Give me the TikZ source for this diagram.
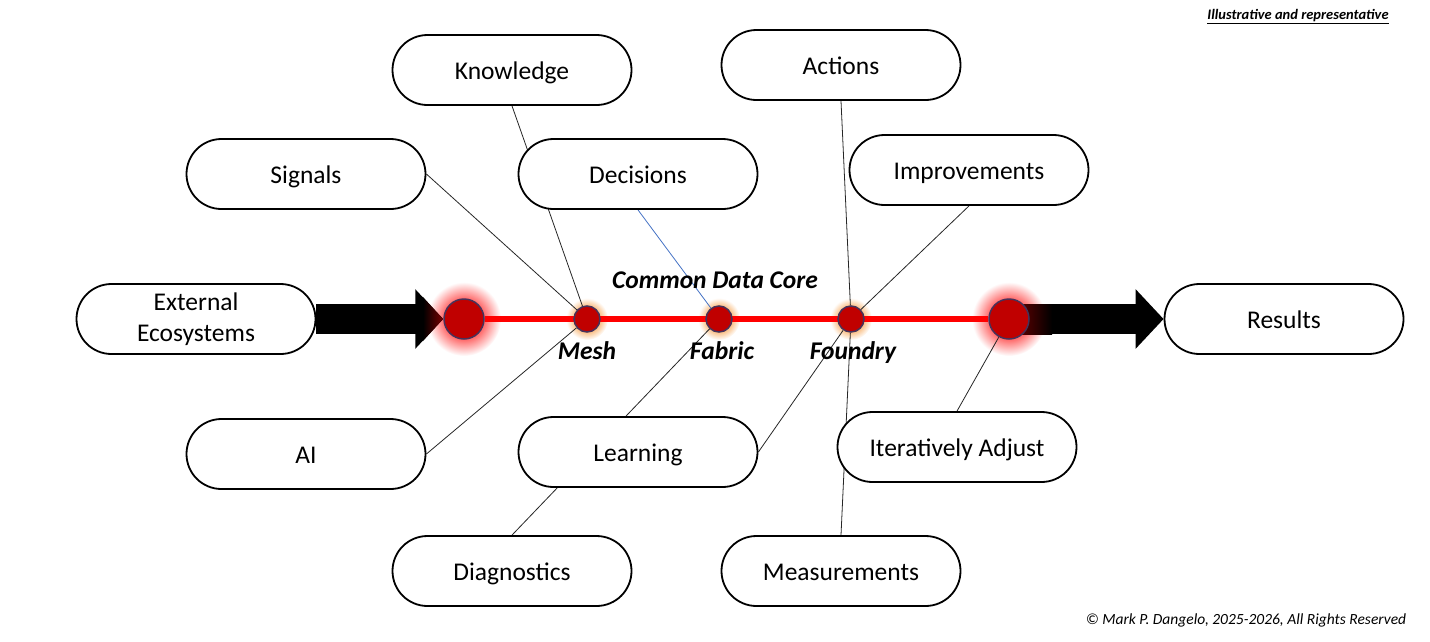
\documentclass[tikz,border=0pt]{standalone}
\usepackage{fontspec}
\setmainfont{Carlito}
\usetikzlibrary{arrows.meta,backgrounds}

\definecolor{hubred}{RGB}{192,0,0}
\definecolor{hubrim}{RGB}{70,50,90}
\definecolor{spinered}{RGB}{255,0,0}
\definecolor{linkblue}{RGB}{68,114,196}
\definecolor{tipred}{RGB}{120,0,0}
\definecolor{glowpink}{RGB}{255,110,110}
\definecolor{glowamber}{RGB}{250,195,140}

\pgfdeclareradialshading{redglow}{\pgfpoint{0bp}{0bp}}{color(0bp)=(glowpink); color(14bp)=(glowpink); color(25bp)=(white); color(50bp)=(white)}
\pgfdeclareradialshading{amberglow}{\pgfpoint{0bp}{0bp}}{color(0bp)=(glowamber); color(16bp)=(glowamber); color(25bp)=(white); color(50bp)=(white)}

\tikzset{
  capsule/.style={draw, line width=1.8pt, fill=white, rounded corners=35pt,
    minimum width=239pt, minimum height=70pt, inner sep=0pt, align=center,
    font=\fontsize{25.5}{31}\selectfont},
  idea/.style={capsule, text height=18pt, text depth=0pt},
  hub/.style={circle, draw=hubrim, line width=1.5pt, fill=hubred,
    minimum size=26pt, inner sep=0pt},
  bighub/.style={hub, minimum size=40pt},
  link/.style={line width=0.8pt, black!85},
  flow/.style={line width=30pt, -{Triangle[length=28pt,width=58pt]}},
  tag/.style={font=\fontsize{25.5}{30}\selectfont\bfseries\itshape,
    text height=17pt, text depth=5pt},
}

\begin{document}
\begin{tikzpicture}[x=1pt,y=-1pt]
  \useasboundingbox (0,0) rectangle (1430,641);

  % Spine hubs
  \node[bighub] (inL) at (464,319) {};
  \node[hub] (mesh) at (587,319) {};
  \node[hub] (fabric) at (719,319) {};
  \node[hub] (foundry) at (851,319) {};
  \node[bighub] (outR) at (1009,319) {};

  % Boxes, upper row
  \node[idea] (knowledge) at (512,70) {Knowledge};
  \node[idea] (actions) at (841,65) {Actions};
  \node[idea] (signals) at (306,174) {Signals};
  \node[idea] (decisions) at (638,174) {Decisions};
  \node[idea] (improve) at (969,170) {Improvements};

  % Boxes, ends of the spine
  \node[capsule, text depth=4pt] (ext) at (196,319) {External\\Ecosystems};
  \node[idea] (results) at (1284,319) {Results};

  % Boxes, lower row
  \node[idea] (ai) at (306,454) {AI};
  \node[idea] (learning) at (638,452) {Learning};
  \node[idea] (adjust) at (957,447) {Iteratively Adjust};
  \node[idea] (diag) at (512,571) {Diagnostics};
  \node[idea] (measure) at (841,571) {Measurements};

  % Labels
  \node[tag] (core) at (715,282) {Common Data Core};
  \node[tag] (meshlbl) at (587,353) {Mesh};
  \node[tag] (fabriclbl) at (722,353) {Fabric};
  \node[tag] (foundrylbl) at (853,353) {Foundry};

  \node[font=\fontsize{14.5}{17}\selectfont\bfseries\itshape] (note) at (1298,17)
    {\underline{Illustrative and representative}};
  \node[font=\fontsize{15.5}{18}\selectfont\itshape] (copy) at (1246,620)
    {© Mark P. Dangelo, 2025-2026, All Rights Reserved};

  \begin{scope}[on background layer]
    % Glows
    \shade[shading=redglow] (inL) circle (37pt);
    \shade[shading=redglow] (outR) circle (37pt);
    \foreach \h in {mesh,fabric,foundry}
      \shade[shading=amberglow] (\h) circle (21pt);

    % Flow arrows
    \draw[flow] (ext.east) -- (inL.west);
    \shade[left color=black, right color=tipred] (423,297) -- (443,319) -- (423,341) -- cycle;
    \draw[flow] (outR) -- (results.west);
    \shade[left color=tipred, right color=black] (1009,304) rectangle (1052,334);

    % Spine
    \draw[spinered, line width=6pt] (inL) -- (outR);

    % Links
    \draw[link] (knowledge.south) -- (mesh);
    \draw[link] (signals.east) -- (mesh);
    \draw[link] (ai.east) -- (mesh);
    \draw[linkblue, line width=0.8pt] (decisions.south) -- (fabric);
    \draw[link] (diag.north) -- (fabric);
    \draw[link] (actions.south) -- (foundry);
    \draw[link] (improve.south) -- (foundry);
    \draw[link] (learning.east) -- (foundry);
    \draw[link] (measure.north) -- (foundry);
    \draw[link] (adjust.north) -- (outR);
  \end{scope}
\end{tikzpicture}
\end{document}
